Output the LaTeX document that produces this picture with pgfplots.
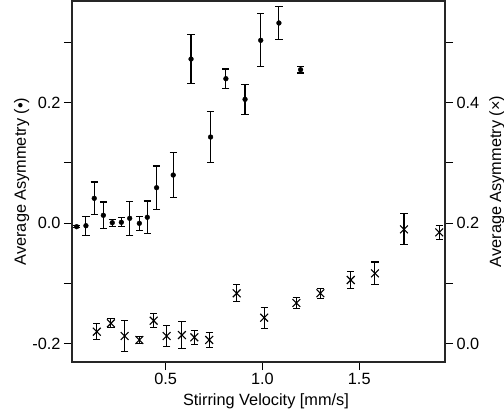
\documentclass[border=0pt]{standalone}
\usepackage{fontspec}
\setmainfont{Liberation Sans}
\usepackage{pgfplots}
\pgfplotsset{compat=1.18}
\pgfplotstableread{
x y e
0.040 -0.0056 0.0015
0.088 -0.0040 0.0158
0.131 0.0414 0.0270
0.178 0.0133 0.0220
0.224 0.0010 0.0060
0.271 0.0017 0.0075
0.314 0.0083 0.0285
0.364 0.0000 0.0116
0.405 0.0100 0.0270
0.453 0.0590 0.0360
0.539 0.0800 0.0370
0.631 0.2723 0.0410
0.732 0.1430 0.0420
0.811 0.2397 0.0160
0.910 0.2055 0.0246
0.991 0.3033 0.0440
1.085 0.3320 0.0280
1.197 0.2546 0.0055
}\dots
\pgfplotstableread{
x y e
0.144 0.0203 0.0133
0.217 0.0342 0.0075
0.288 0.0132 0.0250
0.364 0.0066 0.0060
0.438 0.0386 0.0120
0.505 0.0132 0.0177
0.584 0.0148 0.0224
0.648 0.0110 0.0120
0.725 0.0066 0.0124
0.867 0.0840 0.0140
1.009 0.0435 0.0174
1.175 0.0680 0.0090
1.299 0.0840 0.0080
1.456 0.1060 0.0146
1.581 0.1170 0.0188
1.731 0.1900 0.0257
1.913 0.1850 0.0116
}\crosses
\begin{document}
\begin{tikzpicture}[font=\fontsize{16bp}{19bp}\selectfont]
\pgfplotsset{
  every axis/.append style={
    scale only axis, width=373bp, height=361bp,
    xmin=0.016, xmax=1.943,
    tick align=outside, major tick length=8bp, minor tick length=8bp,
    every tick/.style={black, line width=1bp},
    every minor tick/.style={black, line width=1bp},
    axis line style={line width=1.3bp, black!85},
    /pgf/number format/assume math mode=true,
    tick label style={font=\fontsize{16.3bp}{19bp}\selectfont},
    label style={font=\fontsize{16.3bp}{19bp}\selectfont},
    yticklabel style={/pgf/number format/.cd, fixed, fixed zerofill, precision=1},
    xticklabel style={/pgf/number format/.cd, fixed, fixed zerofill, precision=1},
  },
}
\begin{axis}[
  ymin=-0.2299, ymax=0.3685,
  xtick={0.5,1.0,1.5},
  ytick={-0.2,0,0.2}, minor ytick={-0.1,0.1,0.3},
  xtick pos=bottom, ytick pos=left,
  xlabel={Stirring Velocity [mm/s]},
  ylabel={Average Asymmetry (•)},
  xlabel style={at={(axis description cs:0.52,-0.108)}, anchor=center},
  ylabel style={at={(axis description cs:-0.135,0.5)}, anchor=center},
]
\coordinate (sw) at (rel axis cs:0,0);
\coordinate (ne) at (rel axis cs:1,1);
\addplot[only marks, black, mark=*, mark size=2.4bp,
  error bars/.cd, y dir=both, y explicit,
  error bar style={line width=1.1bp, black},
  error mark options={rotate=90, mark size=3.6bp, line width=1.1bp, black}]
  table[x=x, y=y, y error=e] {\dots};
\end{axis}
\begin{axis}[
  ymin=-0.0299, ymax=0.5685,
  axis x line=none, axis y line*=right,
  ytick={0,0.2,0.4}, minor ytick={0.1,0.3,0.5},
  ytick pos=right,
  ylabel={Average Asymmetry (×)},
  ylabel style={at={(axis description cs:1.139,0.5)}, anchor=center},
]
\addplot[only marks, black, mark=x, mark size=5.5bp, mark options={line width=1.1bp},
  error bars/.cd, y dir=both, y explicit,
  error bar style={line width=1.1bp, black},
  error mark options={rotate=90, mark size=3.6bp, line width=1.1bp, black}]
  table[x=x, y=y, y error=e] {\crosses};
\end{axis}
\pgfresetboundingbox
\path ([shift={(-72bp,-52bp)}]sw) rectangle ([shift={(59bp,1bp)}]ne);
\end{tikzpicture}
\end{document}
